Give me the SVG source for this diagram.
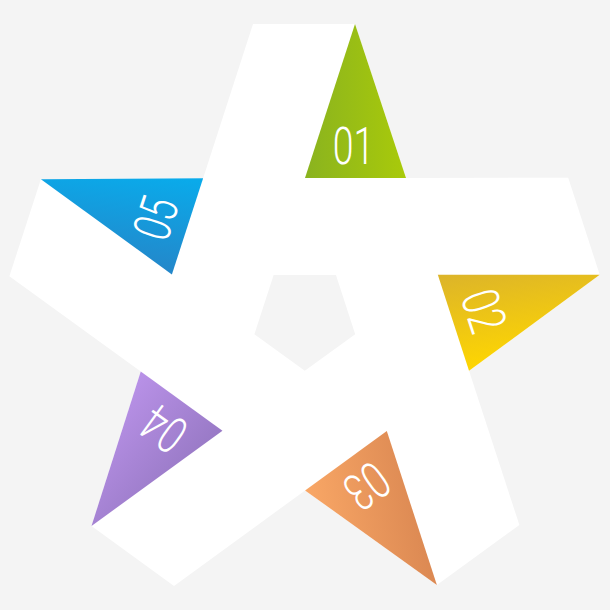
<svg xmlns="http://www.w3.org/2000/svg" width="610" height="610" viewBox="0 0 610 610">
  <style>
    .num { font-family: Roboto, "Liberation Sans", sans-serif; font-weight: 300; font-size: 52px; fill: #ffffff; text-anchor: middle; }
    .body { fill: #ffffff; fill-rule: evenodd; }
  </style>
  <defs>
    <linearGradient id="gGreen" x1="0" y1="0" x2="1" y2="0">
      <stop offset="0" stop-color="#8ab31f"/>
      <stop offset="1" stop-color="#a9ca0a"/>
    </linearGradient>
    <linearGradient id="gYellow" x1="0" y1="0" x2="0.3" y2="1">
      <stop offset="0" stop-color="#dcb42a"/>
      <stop offset="1" stop-color="#ffd700"/>
    </linearGradient>
    <linearGradient id="gOrange" x1="0" y1="0.4" x2="1" y2="0.2">
      <stop offset="0" stop-color="#f9a766"/>
      <stop offset="1" stop-color="#d6834f"/>
    </linearGradient>
    <linearGradient id="gPurple" x1="0.3" y1="0" x2="0.9" y2="0.6">
      <stop offset="0" stop-color="#bb93ea"/>
      <stop offset="1" stop-color="#9577c2"/>
    </linearGradient>
    <linearGradient id="gBlue" x1="0.8" y1="0" x2="0.6" y2="1">
      <stop offset="0" stop-color="#0aaaea"/>
      <stop offset="1" stop-color="#2585c8"/>
    </linearGradient>
  </defs>
  <rect x="0" y="0" width="610" height="610" fill="#f4f4f4"/>
  <g id="star-body">
    <path class="body" d="M 9.37,276.28 L 40.89,179.27 L 203.12,178.35 L 253,24 L 355,24 L 406,178 L 568.21,177.75 L 599.73,274.75 L 469.03,370.85 L 519.40,525.04 L 436.88,585.00 L 305.10,490.39 L 174.02,585.94 L 91.50,525.98 L 140.76,371.42 Z M 273.65,274.92 L 335.95,274.92 L 355.21,334.18 L 304.8,370.8 L 254.39,334.18 Z"/>
  </g>
  <g id="tip-01">
    <polygon points="355,24 406,178 305,178" fill="url(#gGreen)"/>
    <text class="num" transform="translate(353.5 163.5) scale(0.72 1)">01</text>
  </g>
  <g id="tip-02">
    <polygon points="599.73,274.75 469.03,370.85 437.82,274.79" fill="url(#gYellow)"/>
    <text class="num" transform="rotate(72 304.8 317.8) translate(353.5 163.5) scale(0.72 1)">02</text>
  </g>
  <g id="tip-03">
    <polygon points="436.88,585.00 305.10,490.39 386.81,431.02" fill="url(#gOrange)"/>
    <text class="num" transform="rotate(144 304.8 317.8) translate(353.5 163.5) scale(0.72 1)">03</text>
  </g>
  <g id="tip-04">
    <polygon points="91.50,525.98 140.76,371.42 222.47,430.78" fill="url(#gPurple)"/>
    <text class="num" transform="rotate(216 304.8 317.8) translate(353.5 163.5) scale(0.72 1)">04</text>
  </g>
  <g id="tip-05">
    <polygon points="40.89,179.27 203.12,178.35 171.90,274.41" fill="url(#gBlue)"/>
    <text class="num" transform="rotate(288 304.8 317.8) translate(353.5 163.5) scale(0.72 1)">05</text>
  </g>
</svg>
